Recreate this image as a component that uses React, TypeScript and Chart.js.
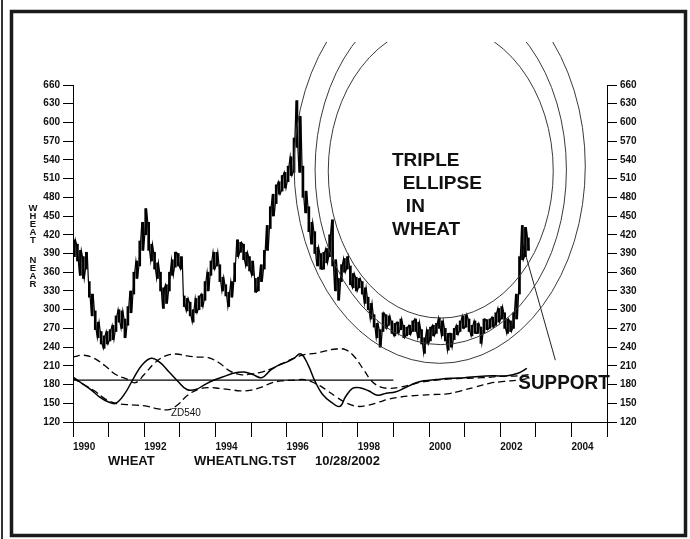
import React, { useEffect, useRef } from "react";
import { Chart, registerables } from "chart.js";

Chart.register(...registerables);

// ---------- DATA ----------
const FIRST_YEAR = 1990;
const LAST_YEAR = 2005;
const yearTickLabels = ["1990", "1992", "1994", "1996", "1998", "2000", "2002", "2004"];
const PRICE_MIN = 120;
const PRICE_MAX = 660;
const PRICE_STEP = 30;

// monthly low / high of wheat (nearby), Jan 1990 .. Oct 2002
const priceLow = [
  385, 378, 355, 350, 365, 320, 290, 268, 255, 245, 238, 245,
  250, 252, 265, 280, 270, 255, 275, 295, 325, 350, 370, 395,
  420, 395, 378, 365, 350, 330, 302, 310, 330, 355, 368, 370,
  365, 305, 298, 290, 280, 295, 300, 305, 315, 330, 355, 365,
  370, 345, 330, 322, 305, 320, 345, 385, 392, 380, 370, 362,
  355, 328, 330, 345, 365, 395, 430, 450, 470, 485, 490, 495,
  505, 515, 520, 560, 520, 480, 455, 425, 405, 390, 370, 365,
  365, 375, 385, 370, 330, 315, 345, 360, 365, 340, 335, 330,
  335, 325, 310, 300, 285, 272, 255, 240, 265, 270, 275, 262,
  258, 262, 268, 255, 258, 260, 265, 265, 255, 245, 230, 245,
  250, 258, 262, 270, 258, 250, 235, 240, 252, 260, 265, 270,
  272, 265, 258, 262, 262, 246, 262, 268, 270, 272, 275, 280,
  285, 270, 262, 265, 270, 285, 325, 380, 385, 395,
];
const priceHigh = [
  412, 405, 395, 385, 392, 345, 325, 298, 280, 265, 258, 265,
  268, 275, 290, 300, 298, 285, 305, 330, 360, 378, 410, 440,
  462, 440, 405, 392, 375, 360, 335, 340, 360, 380, 392, 390,
  385, 322, 318, 312, 300, 318, 322, 325, 345, 360, 378, 392,
  392, 372, 352, 340, 328, 345, 375, 412, 408, 405, 392, 385,
  378, 350, 352, 372, 395, 435, 465, 485, 500, 505, 515, 520,
  530, 545, 575, 635, 610, 530, 490, 465, 440, 425, 400, 390,
  392, 398, 420, 444, 380, 350, 372, 382, 385, 370, 358, 352,
  350, 345, 335, 320, 310, 292, 278, 268, 295, 292, 290, 282,
  278, 280, 285, 275, 272, 275, 282, 285, 280, 268, 255, 268,
  272, 275, 278, 287, 282, 270, 262, 262, 270, 275, 282, 290,
  292, 285, 275, 282, 278, 272, 285, 284, 285, 288, 295, 302,
  305, 295, 285, 282, 295, 325, 385, 435, 432, 415,
];

// solid oscillator
const solidYears = [
  1990.0, 1990.25, 1990.5, 1990.75, 1991.0, 1991.2, 1991.45, 1991.7, 1991.95, 1992.2,
  1992.45, 1992.7, 1992.95, 1993.2, 1993.45, 1993.7, 1993.95, 1994.2, 1994.5, 1994.8,
  1995.05, 1995.3, 1995.55, 1995.8, 1996.0, 1996.2, 1996.4, 1996.6, 1996.8, 1997.0,
  1997.25, 1997.5, 1997.65, 1997.85, 1998.05, 1998.3, 1998.55, 1998.8, 1999.05, 1999.3,
  1999.6, 1999.85, 2000.2, 2000.6, 2001.0, 2001.4, 2001.8, 2002.2, 2002.5, 2002.75,
];
const solidValues = [
  192, 182, 172, 160, 152, 150, 165, 190, 212, 222,
  215, 200, 185, 172, 172, 180, 187, 192, 198, 200,
  196, 191, 203, 212, 216, 222, 229, 212, 185, 165,
  152, 145, 160, 174, 175, 170, 163, 166, 168, 174,
  182, 186, 188, 190, 191, 193, 194, 194, 198, 206,
];

// upper dashed envelope
const upperYears = [
  1990.0, 1990.3, 1990.6, 1990.9, 1991.2, 1991.5, 1991.75, 1992.0, 1992.3, 1992.6,
  1992.9, 1993.2, 1993.5, 1993.8, 1994.1, 1994.4, 1994.7, 1995.0, 1995.3, 1995.6,
  1995.9, 1996.2, 1996.5, 1996.8, 1997.1, 1997.4, 1997.65, 1997.9, 1998.15, 1998.4,
  1998.65, 1998.9, 1999.2, 1999.5, 1999.8, 2000.2, 2000.6, 2001.0, 2001.5, 2002.0,
  2002.5, 2002.8,
];
const upperValues = [
  224, 227, 222, 210, 196, 189, 183, 196, 215, 226,
  229, 226, 224, 223, 215, 202, 196, 197, 200, 206,
  214, 222, 228, 230, 234, 237, 236, 225, 205, 185,
  176, 174, 176, 180, 184, 187, 189, 190, 191, 193,
  194, 196,
];

// lower dashed envelope
const lowerYears = [
  1990.0, 1990.3, 1990.6, 1990.9, 1991.2, 1991.5, 1991.8, 1992.1, 1992.4, 1992.7,
  1992.95, 1993.2, 1993.5, 1993.8, 1994.1, 1994.4, 1994.7, 1995.0, 1995.3, 1995.6,
  1995.9, 1996.2, 1996.5, 1996.8, 1997.1, 1997.4, 1997.7, 1998.0, 1998.3, 1998.6,
  1998.9, 1999.2, 1999.5, 1999.8, 2000.1, 2000.5, 2000.9, 2001.3, 2001.7, 2002.1,
  2002.5, 2002.8,
];
const lowerValues = [
  190, 180, 170, 157, 150, 148, 147, 145, 141, 140,
  148, 162, 172, 175, 174, 172, 170, 171, 176, 183,
  186, 187, 188, 182, 172, 160, 150, 145, 147, 152,
  157, 160, 162, 163, 164, 165, 170, 176, 182, 185,
  187, 190,
];

// horizontal reference level
const levelValue = 187;
const levelYears = [1990, 1999];

// support trend line
const supportYears = [2002.6, 2003.55];
const supportValues = [411, 219];

// triple ellipse (center year, center price, half-width in years, half-height in price)
const ellipseCenterYear = [2000.3, 2000.33, 2000.33];
const ellipseCenterPrice = [530, 524, 522];
const ellipseHalfYears = [4.09, 3.53, 3.16];
const ellipseHalfPrice = [316, 280, 235.5];
const ELLIPSE_CLIP_PRICE = 729;

// annotation texts
const titleLines = ["TRIPLE", "ELLIPSE", "IN", "WHEAT"];
const titleYears = [1998.96, 1999.26, 1999.35, 1998.96];
const titlePrices = [539, 502, 465, 427.5];
const supportLabel = "SUPPORT";
const supportLabelYear = 2002.51;
const supportLabelPrice = 182.5;
const oscLabel = "ZD540";
const oscLabelYear = 1992.75;
const oscLabelPrice = 134;
const yTitleLetters = ["W", "H", "E", "A", "T", "N", "E", "A", "R"];
const footerTexts = ["WHEAT", "WHEATLNG.TST", "10/28/2002"];

// ---------- CHART ----------
const FONT = '"Liberation Sans", Arial, Helvetica, sans-serif';

const decorPlugin = {
  id: "decor",
  beforeDraw(chart: any) {
    const ctx = chart.ctx;
    ctx.save();
    ctx.fillStyle = "#ffffff";
    ctx.fillRect(0, 0, chart.width, chart.height);
    ctx.restore();
  },
  afterDatasetsDraw(chart: any) {
    const ctx = chart.ctx;
    const xs = chart.scales.x;
    const ys = chart.scales.y;
    const area = chart.chartArea;
    const clipTop = ys.getPixelForValue(ELLIPSE_CLIP_PRICE);
    ctx.save();
    ctx.beginPath();
    ctx.rect(area.left, clipTop, area.right - area.left, area.bottom - clipTop);
    ctx.clip();
    ctx.strokeStyle = "#3a3a3a";
    ctx.lineWidth = 1;
    for (let i = 0; i < ellipseCenterYear.length; i++) {
      const cx = xs.getPixelForValue(ellipseCenterYear[i]);
      const cy = ys.getPixelForValue(ellipseCenterPrice[i]);
      const rx = Math.abs(xs.getPixelForValue(ellipseCenterYear[i] + ellipseHalfYears[i]) - cx);
      const ry = Math.abs(ys.getPixelForValue(ellipseCenterPrice[i] + ellipseHalfPrice[i]) - cy);
      ctx.beginPath();
      ctx.ellipse(cx, cy, rx, ry, 0, 0, Math.PI * 2);
      ctx.stroke();
    }
    ctx.restore();
  },
  afterDraw(chart: any) {
    const ctx = chart.ctx;
    const xs = chart.scales.x;
    const ys = chart.scales.y;
    ctx.save();
    ctx.fillStyle = "#111";
    ctx.textBaseline = "middle";
    ctx.textAlign = "left";

    // title in the ellipse
    ctx.font = `bold 19px ${FONT}`;
    titleLines.forEach((t, i) => {
      ctx.fillText(t, xs.getPixelForValue(titleYears[i]), ys.getPixelForValue(titlePrices[i]));
    });

    // SUPPORT (condensed)
    ctx.save();
    ctx.translate(xs.getPixelForValue(supportLabelYear), ys.getPixelForValue(supportLabelPrice));
    ctx.scale(0.9, 1);
    ctx.font = `bold 21px ${FONT}`;
    ctx.fillText(supportLabel, 0, 0);
    ctx.restore();

    // oscillator label
    ctx.font = `10px ${FONT}`;
    ctx.fillText(oscLabel, xs.getPixelForValue(oscLabelYear), ys.getPixelForValue(oscLabelPrice));

    // vertical axis title, stacked letters
    ctx.font = `bold 9.5px ${FONT}`;
    ctx.textAlign = "center";
    yTitleLetters.forEach((l, i) => {
      ctx.fillText(l, 33, 208 + i * 8 + (i >= 5 ? 12 : 0));
    });

    // footer
    ctx.textAlign = "left";
    ctx.font = `bold 13px ${FONT}`;
    const footerX = [108, 194, 315];
    footerTexts.forEach((t, i) => ctx.fillText(t, footerX[i], 461));

    // frame
    ctx.strokeStyle = "#1a1a1a";
    ctx.lineWidth = 3.5;
    ctx.strokeRect(11.5, 11.5, 674, 524);
    ctx.fillStyle = "#333";
    ctx.fillRect(1, 0, 2, chart.height);
    ctx.restore();
  },
};

const App = () => {
  const ref = useRef<HTMLCanvasElement>(null);

  useEffect(() => {
    document.body.style.margin = "0";
    const months = priceLow.map((_, i) => FIRST_YEAR + (i + 0.5) / 12);
    const priceBars = months.map((m, i) => ({ x: m, y: [priceLow[i], priceHigh[i]] }));
    // zig-zag through each month's low and high, smoothing the month-to-month steps
    const priceZig: { x: number; y: number }[] = [];
    months.forEach((m, i) => {
      const lo = priceLow[i];
      const hi = priceHigh[i];
      priceZig.push({ x: m - 1 / 40, y: i % 2 === 0 ? lo : hi });
      priceZig.push({ x: m + 1 / 40, y: i % 2 === 0 ? hi : lo });
    });
    const toXY = (xsArr: number[], ysArr: number[]) => xsArr.map((x, i) => ({ x, y: ysArr[i] }));

    const axisCommon = {
      type: "linear",
      min: PRICE_MIN,
      max: PRICE_MAX,
      border: { display: true, color: "#000", width: 1 },
      grid: { drawOnChartArea: false, drawTicks: true, tickLength: 10, tickColor: "#000", tickWidth: 1 },
      ticks: {
        stepSize: PRICE_STEP,
        padding: 3,
        color: "#111",
        font: { size: 10, family: FONT, weight: "bold" },
        callback: (v: any) => String(v),
      },
    };

    const chart = new Chart(ref.current as HTMLCanvasElement, {
      type: "line",
      data: {
        datasets: [
          {
            type: "bar",
            data: priceBars as any,
            backgroundColor: "#000",
            borderWidth: 0,
            barThickness: 2,
            yAxisID: "y",
          },
          {
            data: priceZig,
            borderColor: "#000",
            borderWidth: 1.2,
            pointRadius: 0,
            tension: 0,
            yAxisID: "y",
          },
          {
            data: toXY(solidYears, solidValues),
            borderColor: "#000",
            borderWidth: 1.5,
            pointRadius: 0,
            tension: 0.4,
            yAxisID: "y",
          },
          {
            data: toXY(upperYears, upperValues),
            borderColor: "#000",
            borderWidth: 1.3,
            borderDash: [7, 4],
            pointRadius: 0,
            tension: 0.4,
            yAxisID: "y",
          },
          {
            data: toXY(lowerYears, lowerValues),
            borderColor: "#000",
            borderWidth: 1.3,
            borderDash: [7, 4],
            pointRadius: 0,
            tension: 0.4,
            yAxisID: "y",
          },
          {
            data: levelYears.map((x) => ({ x, y: levelValue })),
            borderColor: "#000",
            borderWidth: 1.3,
            pointRadius: 0,
            yAxisID: "y",
          },
          {
            data: toXY(supportYears, supportValues),
            borderColor: "#222",
            borderWidth: 1,
            pointRadius: 0,
            yAxisID: "y",
          },
        ],
      },
      options: {
        responsive: false,
        animation: false,
        devicePixelRatio: 1,
        layout: { padding: { top: 85, left: 0, right: 0, bottom: 0 } },
        plugins: { legend: { display: false }, tooltip: { enabled: false } },
        scales: {
          x: {
            type: "linear",
            position: "bottom",
            min: FIRST_YEAR,
            max: LAST_YEAR,
            offset: false,
            border: { display: true, color: "#000", width: 1 },
            grid: { drawOnChartArea: false, drawTicks: true, tickLength: 15, tickColor: "#000", tickWidth: 1, offset: false },
            ticks: {
              stepSize: 1,
              autoSkip: false,
              maxRotation: 0,
              align: "start",
              padding: 4,
              color: "#111",
              font: { size: 10, family: FONT, weight: "bold" },
              callback: (v: any) => (yearTickLabels.includes(String(v)) ? String(v) : ""),
            },
            afterFit: (s: any) => {
              s.height = 117;
            },
          },
          y: {
            ...axisCommon,
            position: "left",
            afterFit: (s: any) => {
              s.width = 73;
            },
          },
          y2: {
            ...axisCommon,
            position: "right",
            afterFit: (s: any) => {
              s.width = 83;
            },
          },
        } as any,
      },
      plugins: [decorPlugin],
    } as any);
    return () => chart.destroy();
  }, []);

  return (
    <div style={{ width: 690, height: 539, position: "relative", background: "#fff" }}>
      <canvas ref={ref} width={690} height={539} style={{ display: "block", width: 690, height: 539 }} />
    </div>
  );
};

export default App;
